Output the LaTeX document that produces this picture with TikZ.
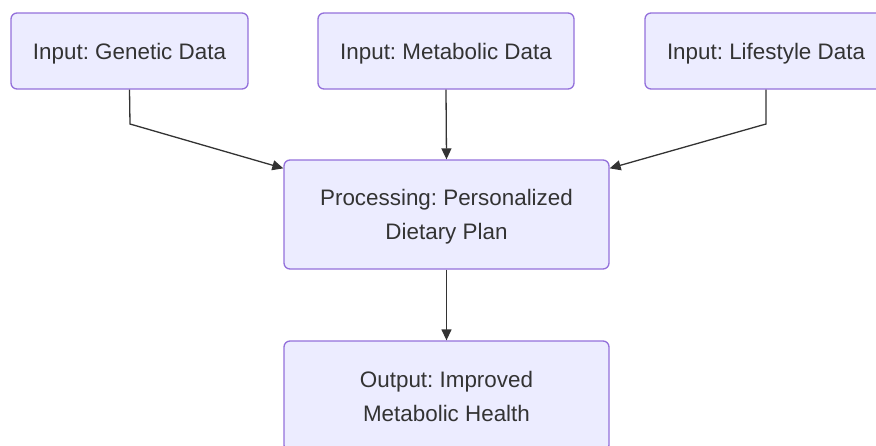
\documentclass[tikz,border=0pt]{standalone}
\usepackage{fontspec}
\setmainfont{Liberation Sans}
\usetikzlibrary{arrows.meta}
\frenchspacing
\definecolor{boxfill}{HTML}{ECECFF}
\definecolor{boxline}{HTML}{9370DB}
\definecolor{txt}{HTML}{333333}
\tikzset{
  flowbox/.style={draw=boxline, fill=boxfill, line width=1.3pt, rounded corners=6pt,
    text=txt, font=\fontsize{22.4}{34}\selectfont, align=center, inner sep=0pt, text depth=0pt},
  link/.style={draw=txt, line width=1.3pt, -{Triangle[length=11pt,width=10pt]}}
}
\begin{document}
\begin{tikzpicture}[x=1pt,y=-1pt]
\useasboundingbox (0,0) rectangle (876,445);
\clip (0,0) rectangle (876,445);
\node[flowbox, minimum width=237pt, minimum height=76pt] (gen) at (129.5,51) {Input: Genetic Data};
\node[flowbox, minimum width=256pt, minimum height=76pt] (met) at (446,51) {Input: Metabolic Data};
\node[flowbox, minimum width=242pt, minimum height=76pt] (life) at (766,51) {Input: Lifestyle Data};
\node[flowbox, minimum width=325pt, minimum height=109pt] (proc) at (446.5,214.5) {Processing: Personalized\\Dietary Plan};
\node[flowbox, minimum width=325pt, minimum height=110pt] (out) at (446.5,396) {Output: Improved\\ Metabolic Health};
\coordinate (gbend) at (130,124);
\coordinate (lbend) at (766,124);
\draw[link] (gen.south) -- (gbend) -- ([yshift=-9pt]proc.north west);
\draw[link] (life.south) -- (lbend) -- ([yshift=-9pt]proc.north east);
\draw[link] (met.south) -- (proc.north);
\draw[link] (proc.south) -- (out.north);
\end{tikzpicture}
\end{document}
